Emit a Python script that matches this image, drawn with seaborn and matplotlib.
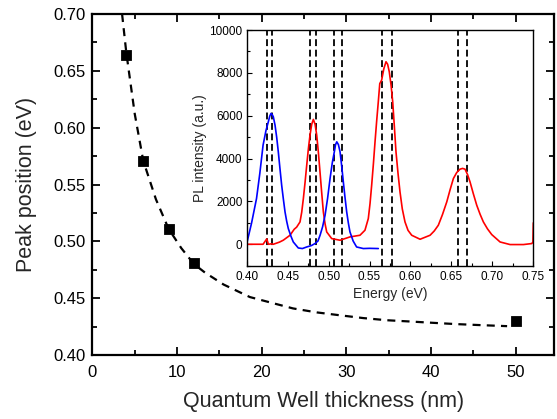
"""Peak position vs quantum well thickness, with PL spectra inset."""
import matplotlib
matplotlib.use('Agg')
import matplotlib.pyplot as plt
from matplotlib.ticker import MultipleLocator, FormatStrFormatter
import seaborn as sns

# main panel: measured peak positions
thickness = [4, 6, 9, 12, 50]
peak_pos = [0.664, 0.571, 0.511, 0.481, 0.430]

# dashed guide curve
fit_x = [3.5, 4.0, 5.0, 6.0, 7.5, 9.0, 10.5, 12.0, 13.3, 15.5, 18.6, 21.8,
         23.7, 26.5, 29.2, 32.0, 34.8, 37.5, 40.3, 43.0, 46.2, 49.0]
fit_y = [0.700, 0.666, 0.612, 0.571, 0.537, 0.511, 0.494, 0.480, 0.4725,
         0.462, 0.451, 0.4447, 0.441, 0.4375, 0.435, 0.4325, 0.4306, 0.4295,
         0.4283, 0.4272, 0.4262, 0.4254]

# inset: PL spectra
blue_e = [0.400, 0.406, 0.412, 0.416, 0.420, 0.4235, 0.4264, 0.4282, 0.4297,
          0.4312, 0.4325, 0.4346, 0.4366, 0.4386, 0.4407, 0.4427, 0.4448,
          0.4468, 0.4488, 0.4508, 0.4540, 0.4569, 0.463, 0.468, 0.4733, 0.479,
          0.4834, 0.487, 0.4896, 0.4927, 0.4957, 0.4988, 0.5018, 0.5045,
          0.507, 0.5085, 0.510, 0.512, 0.514, 0.516, 0.518, 0.520, 0.5221,
          0.5241, 0.5261, 0.530, 0.5342, 0.5424, 0.550, 0.5607]
blue_i = [30, 1000, 2135, 3300, 4626, 5300, 5715, 5980, 6107, 6050, 5950,
          5560, 5000, 4313, 3500, 2757, 2100, 1509, 1080, 734, 380, 107, -173,
          -200, -126, -60, 33, 150, 420, 820, 1355, 2150, 3070, 3800, 4313,
          4650, 4780, 4650, 4313, 3650, 2911, 2200, 1509, 1000, 575, 150,
          -126, -200, -190, -200]

red_e = [0.400, 0.410, 0.420, 0.4245, 0.4265, 0.430, 0.4325, 0.440, 0.4447,
         0.4529, 0.458, 0.461, 0.4651, 0.4672, 0.4692, 0.4713, 0.4733, 0.4753,
         0.4773, 0.4794, 0.4814, 0.4835, 0.4855, 0.4875, 0.4895, 0.4916,
         0.4936, 0.4957, 0.4977, 0.5038, 0.514, 0.5261, 0.5383, 0.5444,
         0.5485, 0.5506, 0.5526, 0.5547, 0.5567, 0.5587, 0.5607, 0.5625,
         0.5648, 0.5675, 0.5701, 0.5721, 0.5741, 0.5762, 0.5783, 0.5803,
         0.5823, 0.5848, 0.5872, 0.590, 0.5933, 0.5970, 0.6015, 0.6117,
         0.6239, 0.629, 0.634, 0.639, 0.6443, 0.6484, 0.6524, 0.6565, 0.6605,
         0.6636, 0.6666, 0.6697, 0.6727, 0.6768, 0.6809, 0.685, 0.689, 0.694,
         0.6992, 0.7094, 0.7216, 0.7379, 0.7481, 0.7495, 0.750]
red_i = [0, 0, 0, 250, 0, 20, 0, 100, 190, 420, 700, 800, 1042, 1500, 2135,
         2900, 3692, 4450, 5093, 5600, 5827, 5600, 5093, 4300, 3380, 2400,
         1509, 950, 575, 265, 187, 343, 420, 654, 1200, 1900, 2757, 3750,
         4780, 5750, 6650, 7500, 7663, 8200, 8518, 8400, 8051, 7450, 6650,
         5500, 4313, 3300, 2444, 1650, 1042, 650, 420, 234, 420, 620, 888,
         1380, 1977, 2550, 3070, 3350, 3505, 3540, 3505, 3250, 2911, 2350,
         1822, 1400, 1042, 720, 453, 107, -14, -14, 33, 100, 1000]

# vertical dashed markers in the inset
marker_lines = [0.4248, 0.4313, 0.4773, 0.4846, 0.5066, 0.5160, 0.5656,
                0.5774, 0.6576, 0.6686]

sns.set_style('ticks')
plt.rcParams['font.family'] = ['Liberation Sans', 'DejaVu Sans']


def style_axis(ax, major, minor, width, labelsize, pad_x, pad_y):
    for spine in ax.spines.values():
        spine.set_visible(True)
        spine.set_linewidth(width)
        spine.set_color('black')
    ax.tick_params(which='both', direction='in', top=True, right=True,
                   colors='black', width=width * 0.8)
    ax.tick_params(which='major', length=major, labelsize=labelsize)
    ax.tick_params(which='minor', length=minor)
    ax.tick_params(axis='x', pad=pad_x)
    ax.tick_params(axis='y', pad=pad_y)


fig = plt.figure(figsize=(5.57, 4.19), dpi=100)
ax = fig.add_axes([0.166, 0.1527, 0.8295, 0.8138])

sns.lineplot(x=fit_x, y=fit_y, ax=ax, color='black', linewidth=1.6,
             linestyle=(0, (3.6, 2.8)), sort=False, estimator=None)
sns.scatterplot(x=thickness, y=peak_pos, ax=ax, marker='s', s=55,
                color='black', edgecolor='black', zorder=5)

ax.set_xlim(0, 54.6)
ax.set_ylim(0.40, 0.70)
ax.xaxis.set_major_locator(MultipleLocator(10))
ax.xaxis.set_minor_locator(MultipleLocator(5))
ax.yaxis.set_major_locator(MultipleLocator(0.05))
ax.yaxis.set_minor_locator(MultipleLocator(0.025))
ax.yaxis.set_major_formatter(FormatStrFormatter('%.2f'))
style_axis(ax, 6, 3.5, 1.6, 12, 7, 5)
ax.set_xlabel('Quantum Well thickness (nm)', fontsize=15.5, labelpad=8)
ax.set_ylabel('Peak position (eV)', fontsize=15.5, labelpad=12)

ins = fig.add_axes([0.4429, 0.3659, 0.5146, 0.5625])
for e in marker_lines:
    ins.axvline(e, color='black', linewidth=1.3, linestyle=(0, (3.8, 2.0)))
sns.lineplot(x=red_e, y=red_i, ax=ins, color='red', linewidth=1.2,
             sort=False, estimator=None)
sns.lineplot(x=blue_e, y=blue_i, ax=ins, color='blue', linewidth=1.2,
             sort=False, estimator=None)
ins.set_xlim(0.40, 0.75)
ins.set_ylim(-1000, 10000)
ins.xaxis.set_major_locator(MultipleLocator(0.05))
ins.xaxis.set_minor_locator(MultipleLocator(0.025))
ins.yaxis.set_minor_locator(MultipleLocator(1000))
ins.xaxis.set_major_formatter(FormatStrFormatter('%.2f'))
ins.set_yticks([0, 2000, 4000, 6000, 8000, 10000])
style_axis(ins, 3.5, 2, 1.0, 8.5, 4, 3)
ins.tick_params(top=False, right=False, which='both')
ins.set_xlabel('Energy (eV)', fontsize=10, labelpad=3)
ins.set_ylabel('PL intensity (a.u.)', fontsize=10, labelpad=2)

fig.savefig('out.png', dpi=100)
